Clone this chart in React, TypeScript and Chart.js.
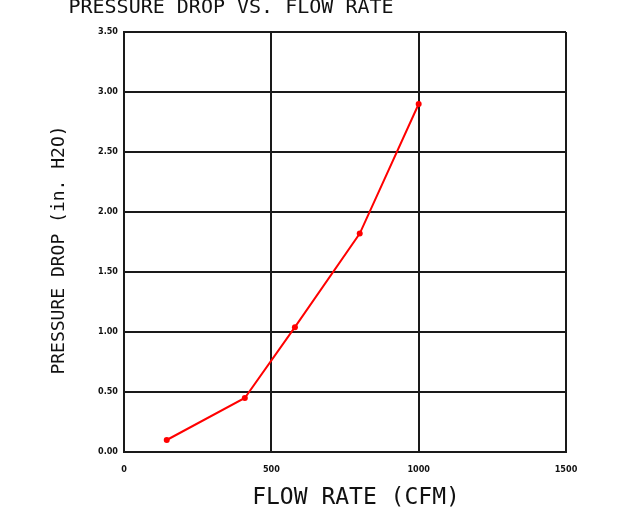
import React, { useEffect, useRef } from "react";
import { Chart, registerables } from "chart.js";

Chart.register(...registerables);

const flowRate = [145, 410, 580, 800, 1000];
const pressureDrop = [0.1, 0.45, 1.04, 1.82, 2.9];
const titleText = "PRESSURE DROP VS. FLOW RATE";
const xTitle = "FLOW RATE (CFM)";
const yTitle = "PRESSURE DROP (in. H2O)";

const titlePlugin = {
  id: "titles",
  afterDraw(chart: any) {
    const ctx = chart.ctx;
    ctx.save();
    ctx.fillStyle = "#111";
    ctx.textAlign = "center";
    ctx.textBaseline = "alphabetic";
    ctx.font = "20px 'DejaVu Sans Mono'";
    ctx.fillText(titleText, 231, 13);
    ctx.font = "23px 'DejaVu Sans Mono'";
    ctx.fillText(xTitle, 356, 504);
    ctx.translate(64, 250);
    ctx.rotate(-Math.PI / 2);
    ctx.font = "18px 'DejaVu Sans Mono'";
    ctx.fillText(yTitle, 0, 0);
    ctx.restore();
  },
};

export default function App() {
  const ref = useRef<HTMLCanvasElement | null>(null);
  useEffect(() => {
    if (!ref.current) return;
    const chart = new Chart(ref.current, {
      type: "line",
      data: {
        datasets: [
          {
            data: flowRate.map((x, i) => ({ x, y: pressureDrop[i] })),
            borderColor: "#ff0000",
            backgroundColor: "#ff0000",
            borderWidth: 2,
            pointRadius: 3,
            pointHoverRadius: 3,
            pointBorderWidth: 0,
            tension: 0,
          },
        ],
      },
      options: {
        animation: false,
        responsive: true,
        maintainAspectRatio: false,
        layout: { padding: { left: 0, top: 32, right: 55, bottom: 0 } },
        plugins: {
          legend: { display: false },
          tooltip: { enabled: false },
          title: { display: false },
        },
        scales: {
          x: {
            type: "linear",
            min: 0,
            max: 1500,
            afterFit: (s: any) => {
              s.height = 79;
            },
            ticks: {
              stepSize: 500,
              padding: 12,
              color: "#111",
              font: { family: "'DejaVu Sans Condensed'", size: 9, weight: "bold" },
              maxRotation: 0,
              callback: (v: any) => String(v),
            },
            grid: { color: "#1a1a1a", lineWidth: 2, drawTicks: false },
            border: { color: "#1a1a1a", width: 2 },
            title: { display: false, text: xTitle },
          },
          y: {
            min: 0,
            max: 3.5,
            afterFit: (s: any) => {
              s.width = 124;
            },
            ticks: {
              stepSize: 0.5,
              padding: 6,
              color: "#111",
              font: { family: "'DejaVu Sans Condensed'", size: 9, weight: "bold" },
              callback: (v: any) => Number(v).toFixed(2),
            },
            grid: { color: "#1a1a1a", lineWidth: 2, drawTicks: false },
            border: { color: "#1a1a1a", width: 2 },
            title: { display: false, text: yTitle },
          },
        },
      },
      plugins: [titlePlugin],
    });
    return () => chart.destroy();
  }, []);
  return (
    <div style={{ position: "fixed", left: 0, top: 0, width: 621, height: 531, background: "#fff" }}>
      <canvas ref={ref} />
    </div>
  );
}
